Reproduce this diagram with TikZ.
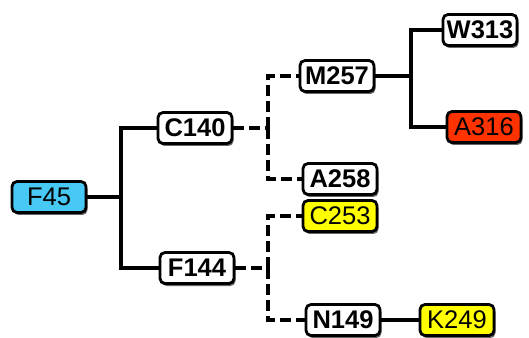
\documentclass[tikz,border=0pt]{standalone}
\usepackage{fontspec}
\setmainfont{Liberation Sans}
\usetikzlibrary{shadows}
\definecolor{cblue}{RGB}{72,200,245}
\definecolor{cred}{RGB}{255,51,0}
\definecolor{cyel}{RGB}{255,255,0}
\tikzset{
  box/.style={draw=black, line width=2.8pt, rounded corners=5pt, minimum width=74pt, minimum height=31pt, inner sep=0pt,
    font=\fontsize{25.5}{28}\selectfont, drop shadow={shadow xshift=1.5pt, shadow yshift=-2.5pt, fill=black!60, opacity=1}},
  wbox/.style={box, fill=white, font=\fontsize{25.5}{28}\selectfont\bfseries},
  cbox/.style={box, fill=#1},
  link/.style={line width=3.2pt, black},
  dlink/.style={line width=3.2pt, black, dash pattern=on 11pt off 5pt},
}
\begin{document}
\begin{tikzpicture}[x=1pt,y=1pt]
\useasboundingbox (0,0) rectangle (529,337);
\coordinate (j0) at (121,140);
\coordinate (j1) at (268,209);
\coordinate (j2) at (268,69);
\coordinate (j3) at (411,261);
\node[cbox=cblue] (F45) at (49,140) {F45};
\node[wbox] (C140) at (195,209) {C140};
\node[wbox] (F144) at (197,69) {F144};
\node[wbox] (M257) at (337,261) {M257};
\node[wbox] (A258) at (340,158) {A258};
\node[cbox=cyel] (C253) at (340,121) {C253};
\node[wbox] (N149) at (343,17) {N149};
\node[cbox=cyel] (K249) at (457,17) {K249};
\node[wbox] (W313) at (480,307) {W313};
\node[cbox=cred] (A316) at (484,210) {A316};
\draw[link] (F45.east) -- (j0);
\draw[link] (j0) |- (C140.west);
\draw[link] (j0) |- (F144.west);
\draw[dlink] (C140.east) -- (j1);
\draw[dlink] (j1) |- (M257.west);
\draw[dlink] (j1) |- (A258.west);
\draw[dlink] (F144.east) -- (j2);
\draw[dlink] (j2) |- (C253.west);
\draw[dlink] (j2) |- (N149.west);
\draw[link] (M257.east) -- (j3);
\draw[link] (j3) |- (W313.west);
\draw[link] (j3) |- (A316.west);
\draw[link] (N149.east) -- (K249.west);
\end{tikzpicture}
\end{document}
